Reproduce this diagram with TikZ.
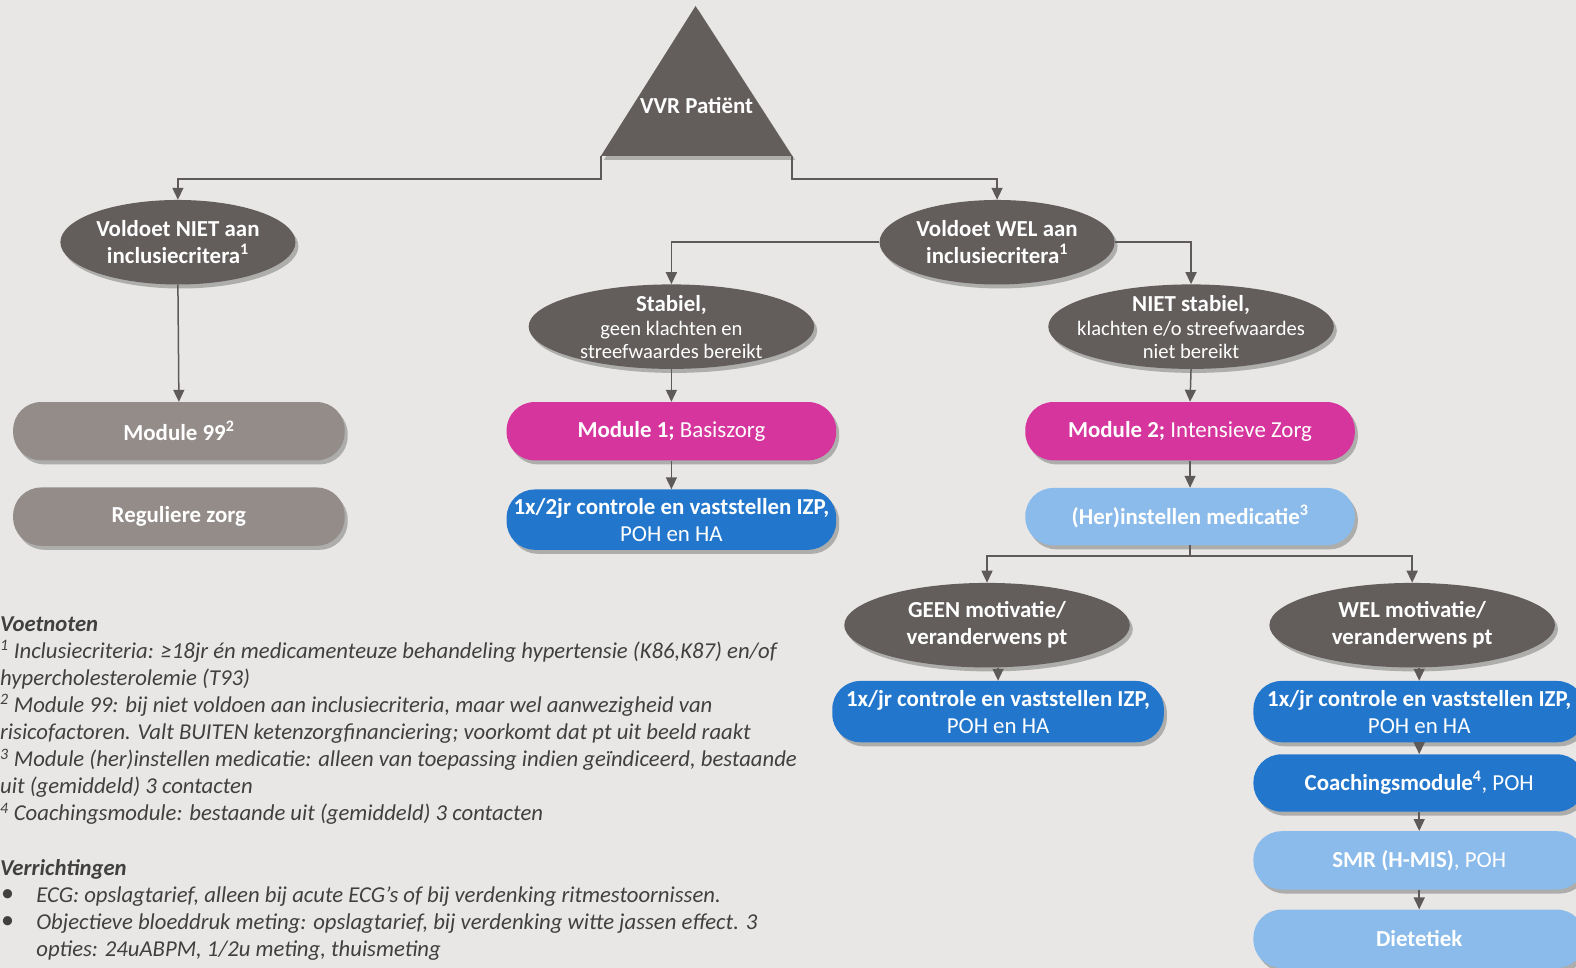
\documentclass[tikz,border=0pt]{standalone}
\usepackage{fontspec}
\setmainfont{Carlito}
\usetikzlibrary{shapes.geometric,shadows,arrows.meta}
\definecolor{bgc}{HTML}{E8E7E5}
\definecolor{darkc}{HTML}{635D5C}
\definecolor{greyc}{HTML}{948C89}
\definecolor{magc}{HTML}{D5359D}
\definecolor{bluec}{HTML}{2277CD}
\definecolor{lbluec}{HTML}{8BBBEA}
\definecolor{linec}{HTML}{5E5A59}
\definecolor{txtc}{HTML}{404040}
\begin{document}
\begin{tikzpicture}[x=1.005pt,y=-1.005pt,
  conn/.style={draw=linec, line width=1.5pt},
  arr/.style={conn,-{Triangle[length=12pt,width=11pt]}},
  shad/.style={drop shadow={shadow xshift=3pt,shadow yshift=-4pt,opacity=0.25,fill=black}},
  ell/.style={ellipse, fill=darkc, text=white, minimum width=235pt, minimum height=84.5pt,
     inner sep=0pt, align=center, font=\fontsize{22.9}{27.1}\selectfont\bfseries, shad},
  ellw/.style={ell, minimum width=285.5pt, inner xsep=-30pt, inner ysep=-15pt},
  pill/.style={rectangle, rounded corners=28pt, minimum width=331.5pt, minimum height=58.3pt,
     inner sep=0pt, text=white, align=center, font=\fontsize{22.9}{27.1}\selectfont, shad},
  fn/.style={anchor=north west, inner sep=0pt, align=left, text=txtc,
     font=\fontsize{22.7}{27.1}\selectfont\itshape},
]
\fill[bgc] (0,0) rectangle (1568,963);

% triangle
\fill[darkc, shad] (692,6) -- (788,155) -- (598,155) -- cycle;
\coordinate (triL) at (598,155);
\coordinate (triR) at (788,155);
\node[text=white, font=\fontsize{22.9}{27}\selectfont\bfseries] (vvr) at (693,105) {VVR Patiënt};

% ellipses
\node[ell] (niet) at (177,241) {Voldoet NIET aan\\inclusiecritera\textsuperscript{1}};
\node[ell] (wel) at (992,241) {Voldoet WEL aan\\inclusiecritera\textsuperscript{1}};
\node[ellw] (stab) at (668,325) {Stabiel,\\[-3pt]{\mdseries\fontsize{20.6}{23}\selectfont geen klachten en}\\[-4pt]{\mdseries\fontsize{20.6}{23}\selectfont streefwaardes bereikt}};
\node[ellw] (nstab) at (1185,325) {NIET stabiel,\\[-3pt]{\mdseries\fontsize{20.6}{23}\selectfont klachten e/o streefwaardes}\\[-4pt]{\mdseries\fontsize{20.6}{23}\selectfont niet bereikt}};
\node[ellw] (geen) at (982,622) {GEEN motivatie/\\veranderwens pt};
\node[ellw] (wmot) at (1405,622) {WEL motivatie/\\veranderwens pt};

% boxes
\node[pill, fill=greyc] (m99) at (178,429) {\bfseries Module 99\textsuperscript{2}};
\node[pill, fill=greyc] (reg) at (178,514) {\bfseries Reguliere zorg};
\node[pill, fill=magc, minimum width=329.5pt] (m1) at (668,429) {\textbf{Module 1;} Basiszorg};
\node[pill, fill=bluec, minimum width=329.5pt, minimum height=60.3pt] (b2jr) at (668,517) {\textbf{1x/2jr controle en vaststellen IZP,}\\POH en HA};
\node[pill, fill=magc, minimum width=329.5pt] (m2) at (1184,429) {\textbf{Module 2;} Intensieve Zorg};
\node[pill, fill=lbluec, minimum width=329.5pt, minimum height=57.3pt] (her) at (1184,514) {\bfseries (Her)instellen medicatie\textsuperscript{3}};
\node[pill, fill=bluec, minimum height=61.3pt] (jr1) at (993,708) {\textbf{1x/jr controle en vaststellen IZP,}\\POH en HA};
\node[pill, fill=bluec, minimum height=61.3pt] (jr2) at (1412,708) {\textbf{1x/jr controle en vaststellen IZP,}\\POH en HA};
\node[pill, fill=bluec, minimum height=57.3pt] (coach) at (1412,779) {\textbf{Coachingsmodule\textsuperscript{4}}, POH};
\node[pill, fill=lbluec] (smr) at (1412,856) {\textbf{SMR (H-MIS)}, POH};
\node[pill, fill=lbluec] (diet) at (1412,934) {\bfseries Dietetiek};

% connectors
\draw[arr] (triL) -- (triL |- 0,178) -| (niet.north);
\draw[arr] (triR) -- (triR |- 0,178) -| (wel.north);
\draw[arr] (niet.south) -- (m99.north);
\draw[arr] (wel.west) -| (stab.north);
\draw[arr] (wel.east) -| (nstab.north);
\draw[arr] (stab.south) -- (m1.north);
\draw[arr] (m1.south) -- (b2jr.north);
\draw[arr] (nstab.south) -- (m2.north);
\draw[arr] (m2.south) -- (her.north);
\coordinate (hj) at (1184,553);
\draw[conn] (her.south) -- (hj);
\draw[arr] (hj) -| (geen.north);
\draw[arr] (hj) -| (wmot.north);
\draw[arr] (jr1.north |- geen.south) -- (jr1.north);
\draw[arr] (jr2.north |- wmot.south) -- (jr2.north);
\draw[arr] (jr2.south) -- (coach.north);
\draw[arr] (coach.south) -- (smr.north);
\draw[arr] (smr.south) -- (diet.north);

% footnotes
\node[fn] (voet) at (0,613) {\textbf{Voetnoten}\\
\textsuperscript{1} Inclusiecriteria: ≥18jr én medicamenteuze behandeling hypertensie (K86,K87) en/of\\
hypercholesterolemie (T93)\\
\textsuperscript{2} Module 99: bij niet voldoen aan inclusiecriteria, maar wel aanwezigheid van\\
risicofactoren. Valt BUITEN ketenzorgfinanciering; voorkomt dat pt uit beeld raakt\\
\textsuperscript{3} Module (her)instellen medicatie: alleen van toepassing indien geïndiceerd, bestaande\\
uit (gemiddeld) 3 contacten\\
\textsuperscript{4} Coachingsmodule: bestaande uit (gemiddeld) 3 contacten};
\node[fn] (verr) at (0,855) {\textbf{Verrichtingen}};
\node[fn, font=\fontsize{26}{27}\selectfont] (bul1) at (1,885) {•};
\node[fn] (v1) at (36,882) {ECG: opslagtarief, alleen bij acute ECG’s of bij verdenking ritmestoornissen.};
\node[fn, font=\fontsize{26}{27}\selectfont] (bul2) at (1,912) {•};
\node[fn] (v2) at (36,909) {Objectieve bloeddruk meting: opslagtarief, bij verdenking witte jassen effect. 3\\opties: 24uABPM, 1/2u meting, thuismeting};

\pgfresetboundingbox
\useasboundingbox (0,0) rectangle (1568,963);
\end{tikzpicture}
\end{document}
